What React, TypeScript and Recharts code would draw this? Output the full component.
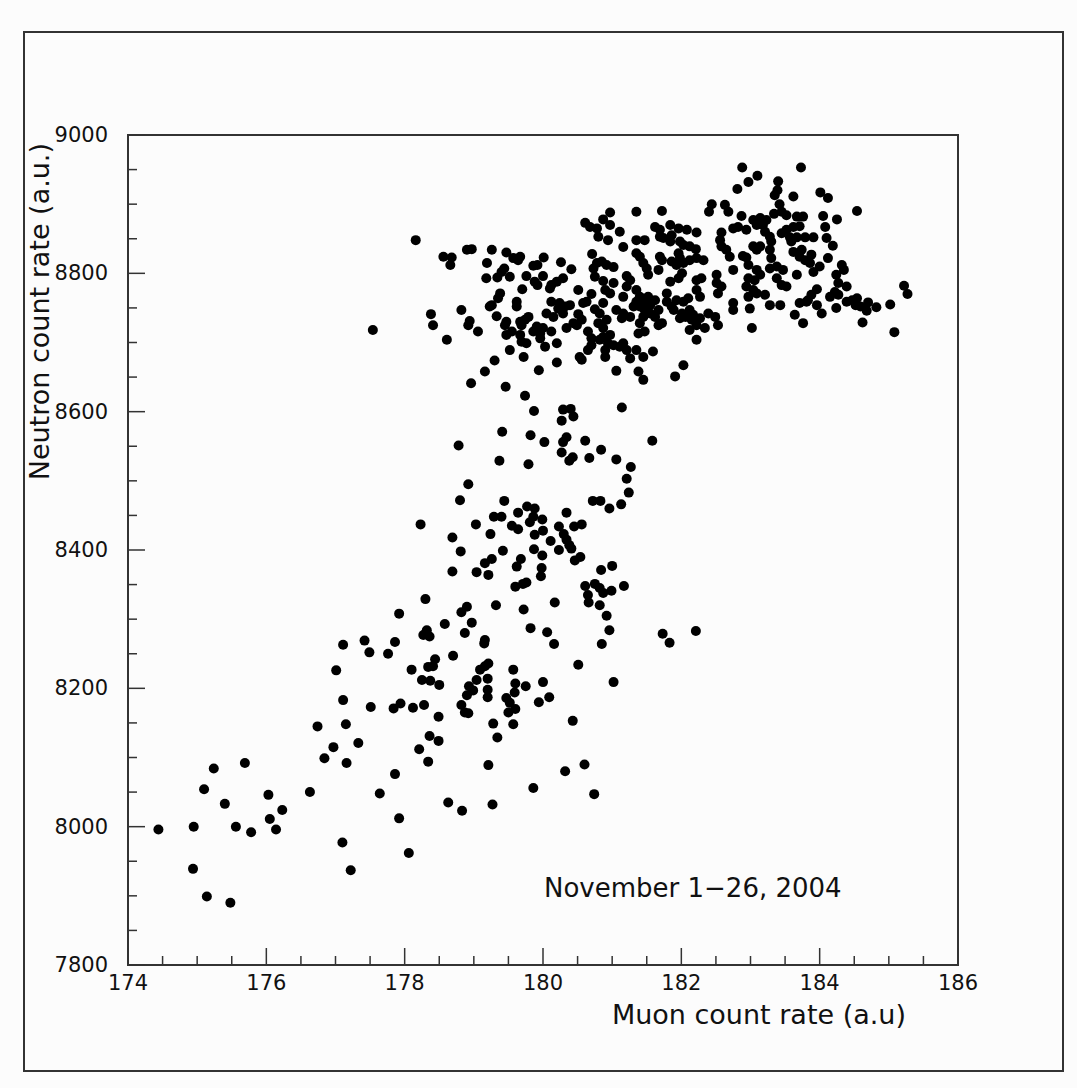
import { ReferenceArea, Scatter, ScatterChart, XAxis, YAxis } from 'recharts';

// [muon rate, neutron rate] pairs, grouped by region
const lowTail: [number, number][] = [
  [177.92, 8308], [177.11, 8263], [177.42, 8269], [177.49, 8252], [177.86, 8267], [177.76, 8250],
  [177.01, 8226], [177.11, 8183], [177.51, 8173], [177.84, 8171], [177.94, 8178], [177.15, 8148],
  [176.74, 8145], [177.33, 8121], [176.97, 8115], [176.84, 8099], [177.16, 8092], [177.86, 8076],
  [176.63, 8050], [177.64, 8048], [177.92, 8012], [177.1, 7977], [178.06, 7962], [177.22, 7937],
  [175.24, 8084], [175.69, 8092], [175.1, 8054], [175.4, 8033], [176.03, 8046], [176.23, 8024],
  [176.05, 8011], [176.14, 7996], [175.56, 8000], [175.78, 7992], [174.95, 8000], [174.44, 7996],
  [174.94, 7939], [175.14, 7899], [175.48, 7890],
];

const lowerCloud: [number, number][] = [
  [178.3, 8329], [179.32, 8320], [179.72, 8314], [180.17, 8324],
  [180.61, 8348], [180.75, 8351], [180.82, 8345], [180.87, 8338], [180.99, 8341], [180.65, 8335],
  [180.66, 8324], [180.82, 8320], [181.17, 8348], [180.92, 8305], [180.96, 8284], [180.85, 8264],
  [181.73, 8279], [181.83, 8266], [182.21, 8283],
  [178.58, 8293], [178.82, 8310], [178.9, 8318], [178.97, 8295], [178.87, 8280], [178.32, 8284],
  [178.27, 8277], [178.36, 8275], [179.16, 8270], [179.15, 8265], [179.82, 8287], [180.06, 8281],
  [180.16, 8264], [180.51, 8234], [181.02, 8209],
  [178.7, 8247], [178.44, 8242], [178.34, 8231], [178.41, 8232], [178.1, 8227], [178.25, 8212],
  [178.37, 8211], [178.5, 8205], [178.28, 8176], [178.12, 8172],
  [178.49, 8159], [178.36, 8131], [178.49, 8124], [178.21, 8112], [178.34, 8094], [179.21, 8089],
  [179.09, 8227], [179.16, 8232], [179.21, 8236], [179.04, 8212], [178.93, 8203], [178.99, 8197],
  [178.9, 8190], [179.2, 8214], [179.2, 8198], [179.2, 8187], [178.82, 8176], [178.87, 8165],
  [178.92, 8164], [179.28, 8149], [179.34, 8129],
  [179.57, 8227], [179.6, 8207], [179.59, 8194], [179.47, 8186], [179.52, 8179], [179.6, 8170],
  [179.5, 8165], [179.57, 8148], [179.75, 8203], [180, 8209], [179.94, 8180], [180.09, 8187],
  [180.43, 8153], [180.6, 8090], [180.32, 8080], [180.74, 8047], [179.86, 8056], [178.63, 8035],
  [178.83, 8023], [179.27, 8032],
];

const middleCloud: [number, number][] = [
  [179.87, 8601], [180.29, 8603], [180.4, 8604], [180.44, 8593], [180.27, 8587], [181.14, 8606],
  [179.41, 8571], [179.82, 8566], [180.02, 8556], [180.34, 8563], [180.29, 8556], [180.61, 8558],
  [180.84, 8545], [180.27, 8541], [180.43, 8534], [180.38, 8529], [180.67, 8533], [181.06, 8531],
  [181.27, 8520], [181.21, 8503], [181.24, 8483], [181.13, 8466], [180.96, 8460], [180.72, 8471],
  [180.83, 8471], [181.58, 8558],
  [178.78, 8551], [179.37, 8529], [179.79, 8524], [178.92, 8495], [178.8, 8472], [179.44, 8471],
  [178.23, 8437], [179.03, 8437], [178.69, 8418], [179.24, 8423], [178.81, 8398], [178.69, 8369],
  [179.04, 8368], [179.21, 8364], [179.16, 8381], [179.26, 8387], [179.42, 8399],
  [179.29, 8448], [179.4, 8448], [179.64, 8454], [179.77, 8463], [179.88, 8460], [179.86, 8448],
  [179.81, 8440], [179.99, 8444], [180.34, 8454], [179.55, 8435], [179.64, 8430], [179.88, 8422],
  [180, 8428], [180.23, 8434], [180.3, 8423], [180.34, 8415], [180.38, 8407], [180.11, 8413],
  [180.45, 8434], [180.56, 8437], [180.23, 8400], [180.41, 8402], [179.87, 8401], [179.99, 8392],
  [180.46, 8385], [180.54, 8390], [179.68, 8387], [179.62, 8376], [179.98, 8374], [179.97, 8362],
  [180.84, 8371], [181, 8377], [179.6, 8347], [179.71, 8351], [179.76, 8353],
];

const upperWest: [number, number][] = [
  [177.54, 8718], [178.16, 8848], [178.56, 8824], [178.68, 8823], [178.66, 8812], [178.9, 8834],
  [178.97, 8835], [179.26, 8834], [179.47, 8830], [179.57, 8822], [179.67, 8824], [179.64, 8819],
  [179.19, 8815], [180.01, 8823], [180.26, 8816], [179.86, 8811], [179.92, 8812], [180.41, 8806],
  [180.61, 8873], [180.68, 8867], [180.71, 8828],
  [179.44, 8807], [179.4, 8802], [179.52, 8795], [179.18, 8793], [179.34, 8794], [179.76, 8796],
  [180, 8796], [179.88, 8788], [179.92, 8783], [179.7, 8777], [180.12, 8783], [180.2, 8788],
  [180.29, 8793], [180.1, 8778], [180.51, 8776], [180.7, 8770], [180.63, 8759], [180.58, 8757],
  [179.38, 8771], [179.35, 8764], [179.26, 8754], [179.23, 8752], [179.62, 8759], [179.62, 8752],
  [180.12, 8759], [180.24, 8757], [180.32, 8752], [180.39, 8754], [180.22, 8749], [180.29, 8742],
  [180.05, 8742], [180.15, 8737], [180.51, 8741], [180.56, 8733], [180.44, 8728], [180.34, 8721],
  [180.49, 8725],
  [178.82, 8747], [178.38, 8741], [178.41, 8725], [178.94, 8731], [178.92, 8725], [179.06, 8716],
  [178.61, 8704], [179.33, 8738], [179.47, 8730], [179.45, 8725], [179.67, 8730], [179.74, 8733],
  [179.79, 8737], [179.69, 8725], [179.47, 8711], [179.55, 8716], [179.67, 8711], [179.76, 8699],
  [179.69, 8701], [179.86, 8716], [179.96, 8713], [179.91, 8723], [180, 8721], [179.96, 8706],
  [180.03, 8694], [180.12, 8716], [180.2, 8699],
  [179.52, 8689], [179.72, 8679], [179.3, 8674], [179.16, 8658], [178.96, 8641], [179.46, 8636],
  [179.74, 8623], [179.94, 8660], [180.2, 8671], [180.53, 8679], [180.56, 8675], [180.65, 8689],
  [180.7, 8696], [180.65, 8716], [180.7, 8706], [180.73, 8807], [180.75, 8795], [180.75, 8748],
];

const upperCore: [number, number][] = [
  [182.88, 8953], [183.1, 8941], [182.97, 8932], [182.81, 8922], [183.4, 8933], [183.39, 8920],
  [183.35, 8913], [181.35, 8889], [181.72, 8890], [180.97, 8888], [180.87, 8878], [182.44, 8900],
  [182.4, 8889], [182.63, 8899], [182.68, 8889], [183.42, 8900], [183.45, 8889], [183.34, 8886],
  [182.87, 8883], [183.04, 8877], [183.14, 8880], [183.23, 8877], [183.09, 8870], [183.18, 8870],
  [183.52, 8884],
  [180.97, 8870], [180.78, 8865], [180.8, 8853], [180.94, 8848], [181.11, 8860], [181.62, 8867],
  [181.69, 8863], [181.84, 8870], [181.96, 8865], [182.08, 8863], [182.22, 8859], [181.86, 8855],
  [181.84, 8846], [182.75, 8865], [182.82, 8867], [182.94, 8863], [182.58, 8859], [183.21, 8860],
  [183.28, 8853], [183.3, 8846], [183.45, 8858], [183.52, 8863],
  [181.35, 8848], [181.47, 8848], [181.16, 8838], [181.35, 8829], [181.4, 8824], [181.69, 8853],
  [181.74, 8851], [181.98, 8846], [182.03, 8841], [182.12, 8839], [182.21, 8835], [182.56, 8848],
  [182.58, 8839], [182.65, 8834], [182.7, 8824], [183.04, 8839], [183.09, 8834], [183.14, 8839],
  [182.94, 8823], [183.28, 8834], [183.3, 8822], [181.69, 8824], [181.72, 8819], [181.96, 8829],
  [181.98, 8822],
  [180.78, 8815], [180.85, 8817], [180.92, 8812], [181.02, 8809], [181.21, 8796], [181.26, 8790],
  [181.45, 8815], [181.5, 8807], [181.52, 8798], [181.67, 8805], [181.86, 8817], [181.93, 8812],
  [182.03, 8815], [182.12, 8819], [182.22, 8822], [182.32, 8819], [181.84, 8788], [181.96, 8793],
  [182.01, 8800], [182.22, 8790], [182.29, 8793], [182.51, 8798], [182.51, 8786], [182.58, 8781],
  [182.75, 8805], [182.89, 8825], [182.97, 8812], [183.09, 8805], [183.14, 8798], [182.97, 8793],
  [183.06, 8790], [183.28, 8807], [183.38, 8810], [183.47, 8805], [183.38, 8793], [183.45, 8783],
  [183.52, 8781],
  [180.87, 8789], [180.9, 8776], [180.87, 8757], [181.02, 8786], [180.97, 8771], [181.21, 8781],
  [181.16, 8766], [181.35, 8776], [181.4, 8766], [181.45, 8759], [181.35, 8759], [181.52, 8766],
  [181.55, 8754], [181.62, 8761], [181.79, 8771], [181.79, 8759], [181.93, 8761], [182.03, 8759],
  [182.1, 8764], [182.22, 8776], [182.27, 8766], [182.53, 8771], [182.75, 8757], [182.94, 8781],
  [182.97, 8766], [183.04, 8776], [183.09, 8771], [183.21, 8769], [183.28, 8754], [183.43, 8754],
  [180.82, 8742], [180.8, 8728], [180.92, 8733], [180.87, 8721], [180.87, 8708], [180.97, 8711],
  [181.06, 8747], [181.16, 8742], [181.26, 8737], [181.14, 8735], [181.31, 8752], [181.4, 8752],
  [181.47, 8747], [181.55, 8742], [181.45, 8737], [181.62, 8737], [181.4, 8728], [181.47, 8716],
  [181.38, 8713], [181.67, 8747], [181.72, 8728], [181.67, 8725], [181.86, 8752], [181.89, 8747],
  [182.01, 8742], [182.06, 8737], [181.98, 8735], [182.12, 8747], [182.17, 8740], [182.15, 8733],
  [182.22, 8725], [182.27, 8735], [182.39, 8742], [182.49, 8737], [182.53, 8725], [182.12, 8718],
  [182.22, 8704], [182.34, 8721], [183.02, 8721], [182.75, 8747], [182.99, 8749],
  [180.82, 8704], [180.9, 8689], [180.94, 8699], [180.9, 8679], [181.02, 8696], [181.11, 8694],
  [181.16, 8699], [181.21, 8689], [181.26, 8677], [181.35, 8689], [181.45, 8679], [181.59, 8687],
  [181.06, 8659], [181.38, 8658], [181.45, 8646], [181.91, 8651], [182.03, 8667],
];

const upperEast: [number, number][] = [
  [183.73, 8953], [183.62, 8911], [184.01, 8917], [184.12, 8909], [184.54, 8890], [183.67, 8882],
  [183.76, 8882], [184.05, 8883], [184.25, 8878], [183.62, 8867], [183.71, 8868], [184.08, 8867],
  [183.57, 8852], [183.67, 8852], [183.79, 8852], [183.91, 8852], [183.59, 8846], [184.1, 8851],
  [184.19, 8840], [183.62, 8831], [183.74, 8834], [183.88, 8827], [183.71, 8824], [183.79, 8819],
  [183.86, 8815], [184.12, 8822], [184, 8810], [183.91, 8802], [184.32, 8812], [184.35, 8805],
  [184.24, 8798], [183.67, 8798], [184.27, 8786], [184.39, 8781], [184.22, 8773], [183.96, 8777],
  [183.88, 8769], [183.83, 8761], [184.15, 8766], [184.27, 8769], [184.39, 8759], [184.47, 8761],
  [184.54, 8764], [184.52, 8754], [184.59, 8752], [184.7, 8758], [184.68, 8746], [184.82, 8751],
  [185.02, 8755], [185.22, 8782], [185.27, 8770], [183.71, 8757], [183.81, 8759], [183.96, 8754],
  [184.03, 8742], [184.24, 8750], [183.64, 8740], [183.76, 8728], [184.62, 8729], [185.08, 8715],
];

const muonTicks = [
  174, 174.5, 175, 175.5, 176, 176.5, 177, 177.5, 178, 178.5, 179, 179.5, 180,
  180.5, 181, 181.5, 182, 182.5, 183, 183.5, 184, 184.5, 185, 185.5, 186,
];
const neutronTicks = [
  7800, 7850, 7900, 7950, 8000, 8050, 8100, 8150, 8200, 8250, 8300, 8350, 8400,
  8450, 8500, 8550, 8600, 8650, 8700, 8750, 8800, 8850, 8900, 8950, 9000,
];

const points = [...lowTail, ...lowerCloud, ...middleCloud, ...upperWest, ...upperCore, ...upperEast].map(
  ([muon, neutron]) => ({ muon, neutron }),
);

const ink = '#333';
const font = '"DejaVu Sans", Verdana, sans-serif';

function MuonTick({ x, y, payload }: { x: number; y: number; payload: { value: number } }) {
  const major = payload.value % 2 === 0;
  return (
    <g>
      <line x1={x} x2={x} y1={y} y2={y - (major ? 17 : 9)} stroke={ink} strokeWidth={1.5} />
      {major && (
        <text x={x} y={y + 18} textAnchor="middle" dominantBaseline="central" fontFamily={font} fontSize={21} fill="#111">
          {payload.value}
        </text>
      )}
    </g>
  );
}

function NeutronTick({ x, y, payload }: { x: number; y: number; payload: { value: number } }) {
  const major = payload.value % 200 === 0;
  return (
    <g>
      <line x1={x} x2={x + (major ? 17 : 9)} y1={y} y2={y} stroke={ink} strokeWidth={1.5} />
      {major && (
        <text x={x - 20} y={y} textAnchor="end" dominantBaseline="central" fontFamily={font} fontSize={21} fill="#111">
          {payload.value}
        </text>
      )}
    </g>
  );
}

export default function App() {
  return (
    <div style={{ position: 'absolute', left: 0, top: 0, width: 1077, height: 1088, background: '#fcfcfc' }}>
      <div
        style={{
          position: 'absolute',
          left: 23,
          top: 31,
          width: 1037,
          height: 1037,
          border: `2px solid ${ink}`,
        }}
      />
      <ScatterChart width={1077} height={1088} margin={{ top: 135, right: 119, bottom: 93, left: 68 }}>
        <XAxis
          type="number"
          dataKey="muon"
          domain={[174, 186]}
          ticks={muonTicks}
          interval={0}
          tickSize={0}
          tickMargin={0}
          tickLine={false}
          axisLine={{ stroke: ink, strokeWidth: 2 }}
          tick={MuonTick}
          height={30}
          allowDataOverflow
        />
        <YAxis
          type="number"
          dataKey="neutron"
          domain={[7800, 9000]}
          ticks={neutronTicks}
          interval={0}
          tickSize={0}
          tickMargin={0}
          tickLine={false}
          axisLine={{ stroke: ink, strokeWidth: 2 }}
          tick={NeutronTick}
          width={60}
          allowDataOverflow
        />
        <ReferenceArea x1={174} x2={186} y1={7800} y2={9000} fill="none" stroke={ink} strokeWidth={2} />
        <Scatter
          data={points}
          isAnimationActive={false}
          shape={(p: { cx?: number; cy?: number }) => <circle cx={p.cx} cy={p.cy} r={5} fill="#000" />}
        />
      </ScatterChart>
      <div
        style={{
          position: 'absolute',
          right: 1077 - 906,
          top: 1000,
          fontFamily: font,
          fontSize: 27,
          color: '#111',
          whiteSpace: 'nowrap',
          lineHeight: '30px',
        }}
      >
        Muon count rate (a.u)
      </div>
      <div
        style={{
          position: 'absolute',
          left: 40,
          top: 143,
          transform: 'rotate(-90deg) translateX(-100%)',
          transformOrigin: '0 0',
          fontFamily: font,
          fontSize: 27,
          color: '#111',
          whiteSpace: 'nowrap',
          lineHeight: '30px',
          marginLeft: -15,
        }}
      >
        Neutron count rate (a.u.)
      </div>
      <div
        style={{
          position: 'absolute',
          left: 544,
          top: 873,
          fontFamily: font,
          fontSize: 26,
          color: '#111',
          whiteSpace: 'nowrap',
          lineHeight: '30px',
        }}
      >
        November 1−26, 2004
      </div>
    </div>
  );
}
